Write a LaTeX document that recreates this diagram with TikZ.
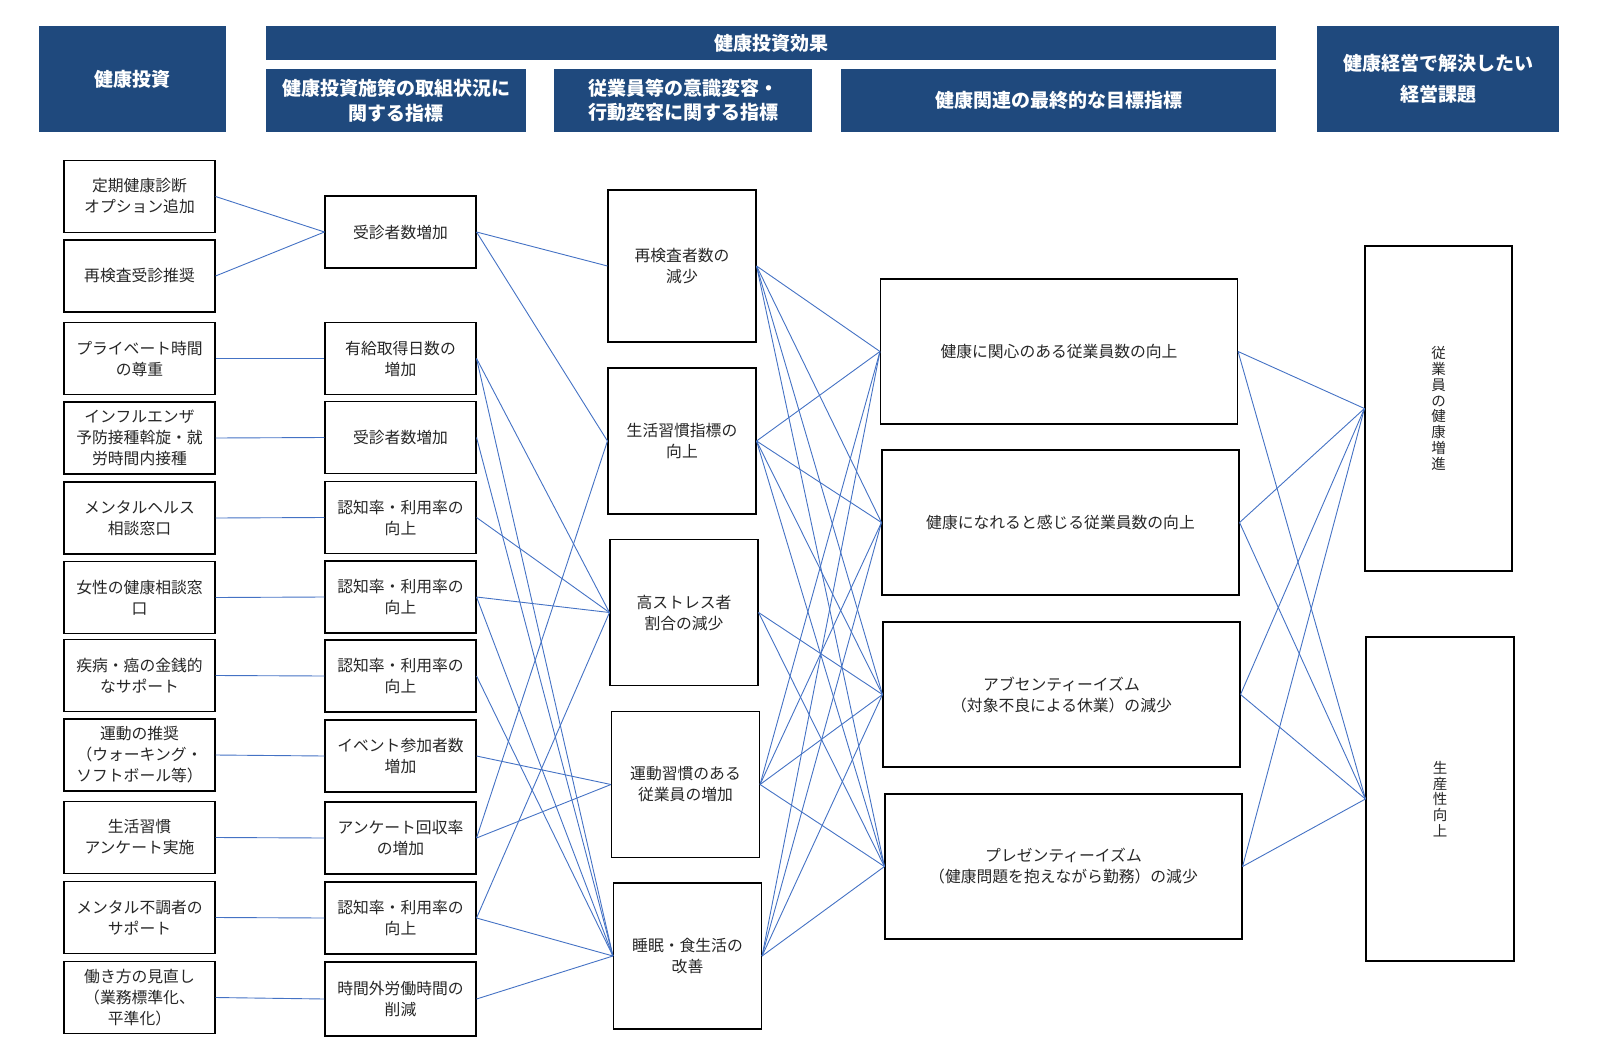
\documentclass[tikz,border=0pt]{standalone}
\usepackage{fontspec}
\setmainfont{Noto Sans CJK JP}
\usepackage{xcolor}
\usepackage{tikz}
\definecolor{hdrblue}{HTML}{1F497D}
\definecolor{linkblue}{HTML}{4472C4}

\begin{document}
\begin{tikzpicture}[
			     x=1pt, y=-1pt,
			     hdr/.style={fill=hdrblue, text=white, align=center, inner sep=0pt, font=\fontsize{19}{24.5}\selectfont\bfseries},
			     cell/.style={draw=black, line width=1.1pt, align=center, inner sep=0pt, text=black!85, font=\fontsize{15.8}{21}\selectfont},
			     inv/.style={cell, minimum width=151pt, minimum height=72pt},
			     chg/.style={cell, minimum width=148pt, minimum height=146pt},
			     goal/.style={cell, minimum width=357pt, minimum height=145pt},
			     task/.style={cell, minimum width=147pt, minimum height=325pt, font=\fontsize{14.5}{15.8}\selectfont},
			     link/.style={draw=linkblue, line width=0.9pt}
			     ]
\useasboundingbox (0,0) rectangle (1600,1062);
% headers
\node[hdr, minimum width=187pt, minimum height=106pt] (hd-inv) at (132.5,79) {健康投資};
\node[hdr, minimum width=1010pt, minimum height=34pt] (hd-eff) at (771,43) {健康投資効果};
\node[hdr, minimum width=260pt, minimum height=63pt] (hd-kpi) at (396,100.5) {健康投資施策の取組状況に\\関する指標};
\node[hdr, minimum width=258pt, minimum height=63pt] (hd-chg) at (683,100.5) {従業員等の意識変容・\\行動変容に関する指標};
\node[hdr, minimum width=435pt, minimum height=63pt] (hd-goal) at (1058.5,100.5) {健康関連の最終的な目標指標};
\node[hdr, minimum width=242pt, minimum height=106pt, font=\fontsize{19}{30.5}\selectfont\bfseries] (hd-task) at (1438,79) {健康経営で解決したい\\経営課題};
% health investments
\node[inv] (inv-1) at (139.5,196.5) {定期健康診断\\オプション追加};
\node[inv] (inv-2) at (139.5,276) {再検査受診推奨};
\node[inv] (inv-3) at (139.5,358.5) {プライベート時間\\の尊重};
\node[inv] (inv-4) at (139.5,438) {インフルエンザ\\予防接種斡旋・就\\労時間内接種};
\node[inv] (inv-5) at (139.5,518) {メンタルヘルス\\相談窓口};
\node[inv] (inv-6) at (139.5,597.5) {女性の健康相談窓\\口};
\node[inv] (inv-7) at (139.5,675.5) {疾病・癌の金銭的\\なサポート};
\node[inv] (inv-8) at (139.5,755) {運動の推奨\\（ウォーキング・\\ソフトボール等）};
\node[inv] (inv-9) at (139.5,837.5) {生活習慣\\アンケート実施};
\node[inv] (inv-10) at (139.5,917.5) {メンタル不調者の\\サポート};
\node[inv] (inv-11) at (139.5,997.5) {働き方の見直し\\（業務標準化、\\平準化）};
% indicators of measures
\node[inv] (kpi-1) at (400.5,232) {受診者数増加};
\node[inv] (kpi-2) at (400.5,358.5) {有給取得日数の\\増加};
\node[inv] (kpi-3) at (400.5,437.5) {受診者数増加};
\node[inv] (kpi-4) at (400.5,517.5) {認知率・利用率の\\向上};
\node[inv] (kpi-5) at (400.5,597) {認知率・利用率の\\向上};
\node[inv] (kpi-6) at (400.5,676) {認知率・利用率の\\向上};
\node[inv] (kpi-7) at (400.5,756) {イベント参加者数\\増加};
\node[inv] (kpi-8) at (400.5,838) {アンケート回収率\\の増加};
\node[inv] (kpi-9) at (400.5,918) {認知率・利用率の\\向上};
\node[inv, minimum height=74pt] (kpi-10) at (400.5,999) {時間外労働時間の\\削減};
% behaviour change
\node[chg, minimum height=152pt] (chg-1) at (682,266) {再検査者数の\\減少};
\node[chg] (chg-2) at (682,441) {生活習慣指標の\\向上};
\node[chg] (chg-3) at (684,612.5) {高ストレス者\\割合の減少};
\node[chg] (chg-4) at (685.5,784.5) {運動習慣のある\\従業員の増加};
\node[chg] (chg-5) at (687.5,956) {睡眠・食生活の\\改善};
% final goals
\node[goal] (goal-1) at (1059,351.5) {健康に関心のある従業員数の向上};
\node[goal] (goal-2) at (1060.5,522.5) {健康になれると感じる従業員数の向上};
\node[goal] (goal-3) at (1061.5,694.5) {アブセンティーイズム\\（対象不良による休業）の減少};
\node[goal] (goal-4) at (1063.5,866.5) {プレゼンティーイズム\\（健康問題を抱えながら勤務）の減少};
% management issues
\node[task] (task-1) at (1438.5,408.5) {従\\業\\員\\の\\健\\康\\増\\進};
\node[task, minimum width=148pt, minimum height=324pt] (task-2) at (1440,799) {生\\産\\性\\向\\上};

\path (inv-1.east) edge[link] (kpi-1.west);
\path (inv-2.east) edge[link] (kpi-1.west);
\path (inv-3.east) edge[link] (kpi-2.west);
\path (inv-4.east) edge[link] (kpi-3.west);
\path (inv-5.east) edge[link] (kpi-4.west);
\path (inv-6.east) edge[link] (kpi-5.west);
\path (inv-7.east) edge[link] (kpi-6.west);
\path (inv-8.east) edge[link] (kpi-7.west);
\path (inv-9.east) edge[link] (kpi-8.west);
\path (inv-10.east) edge[link] (kpi-9.west);
\path (inv-11.east) edge[link] (kpi-10.west);

\path (kpi-1.east) edge[link] (chg-1.west);
\path (kpi-1.east) edge[link] (chg-2.west);
\path (kpi-2.east) edge[link] (chg-3.west);
\path (kpi-2.east) edge[link] (chg-5.west);
\path (kpi-3.east) edge[link] (chg-5.west);
\path (kpi-4.east) edge[link] (chg-3.west);
\path (kpi-5.east) edge[link] (chg-3.west);
\path (kpi-5.east) edge[link] (chg-5.west);
\path (kpi-6.east) edge[link] (chg-5.west);
\path (kpi-7.east) edge[link] (chg-4.west);
\path (kpi-8.east) edge[link] (chg-2.west);
\path (kpi-8.east) edge[link] (chg-4.west);
\path (kpi-9.east) edge[link] (chg-3.west);
\path (kpi-9.east) edge[link] (chg-5.west);
\path (kpi-10.east) edge[link] (chg-5.west);

\path (chg-1.east) edge[link] (goal-1.west);
\path (chg-1.east) edge[link] (goal-2.west);
\path (chg-1.east) edge[link] (goal-3.west);
\path (chg-1.east) edge[link] (goal-4.west);
\path (chg-2.east) edge[link] (goal-1.west);
\path (chg-2.east) edge[link] (goal-2.west);
\path (chg-2.east) edge[link] (goal-3.west);
\path (chg-2.east) edge[link] (goal-4.west);
\path (chg-3.east) edge[link] (goal-3.west);
\path (chg-3.east) edge[link] (goal-4.west);
\path (chg-4.east) edge[link] (goal-1.west);
\path (chg-4.east) edge[link] (goal-2.west);
\path (chg-4.east) edge[link] (goal-3.west);
\path (chg-4.east) edge[link] (goal-4.west);
\path (chg-5.east) edge[link] (goal-1.west);
\path (chg-5.east) edge[link] (goal-2.west);
\path (chg-5.east) edge[link] (goal-3.west);
\path (chg-5.east) edge[link] (goal-4.west);

\path (goal-1.east) edge[link] (task-1.west);
\path (goal-1.east) edge[link] (task-2.west);
\path (goal-2.east) edge[link] (task-1.west);
\path (goal-2.east) edge[link] (task-2.west);
\path (goal-3.east) edge[link] (task-1.west);
\path (goal-3.east) edge[link] (task-2.west);
\path (goal-4.east) edge[link] (task-1.west);
\path (goal-4.east) edge[link] (task-2.west);
\end{tikzpicture}
\end{document}
